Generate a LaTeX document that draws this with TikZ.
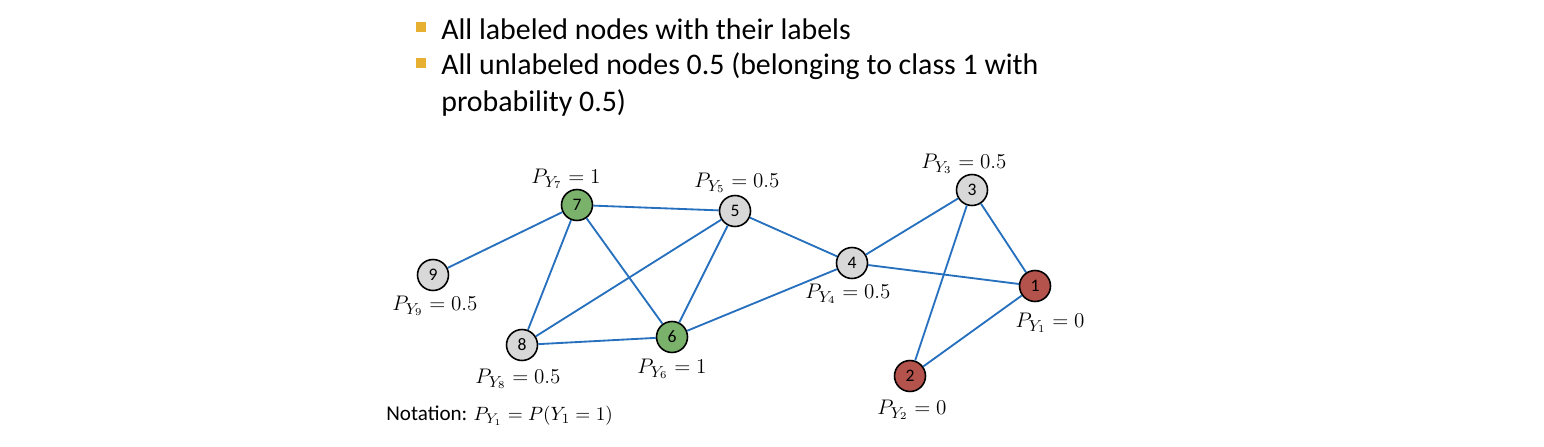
\documentclass[tikz,border=0pt]{standalone}
\usepackage{fontspec}
\setmainfont{Carlito}
\usepackage{tikz,color}

\definecolor{edgeblue}{RGB}{38,112,190}
\definecolor{labgreen}{RGB}{122,178,108}
\definecolor{labred}{RGB}{180,82,76}
\definecolor{unlab}{RGB}{216,216,216}
\definecolor{bulletgold}{RGB}{232,176,48}

\tikzset{
  vert/.style={circle, draw=black, line width=0.9pt, minimum size=0.62cm,
    inner sep=0pt, font=\fontsize{10}{12}\selectfont},
  prob/.style={font=\fontsize{12.5}{14}\selectfont, inner sep=0pt},
  link/.style={edgeblue, line width=1.05pt},
  bullet/.style={fill=bulletgold, minimum size=0.2cm, inner sep=0pt}
}

\begin{document}
\begin{tikzpicture}[x=0.02cm, y=-0.02cm]
\useasboundingbox (0,0) rectangle (1544,446);

% bullet list
\node [bullet] (b1) at (421,27) {};
\node [bullet] (b2) at (421,63) {};
\node [anchor=west, font=\fontsize{17}{21}\selectfont, inner sep=0pt] (t1) at (441,29) {All labeled nodes with their labels};
\node [anchor=north west, align=left, font=\fontsize{17}{21}\selectfont, inner sep=0pt] (t2) at (441,52)
  {All unlabeled nodes 0.5 (belonging to class 1 with\\probability 0.5)};

% nodes
\node [vert, fill=labred] (n1) at (1035,286) {1};
\node [vert, fill=labred] (n2) at (910,376) {2};
\node [vert, fill=unlab] (n3) at (972,190) {3};
\node [vert, fill=unlab] (n4) at (852,263) {4};
\node [vert, fill=unlab] (n5) at (735,211) {5};
\node [vert, fill=labgreen] (n6) at (672,337) {6};
\node [vert, fill=labgreen] (n7) at (577,205) {7};
\node [vert, fill=unlab] (n8) at (522,345) {8};
\node [vert, fill=unlab] (n9) at (433,275) {9};

% edges
\draw [link] (n9) -- (n7);
\draw [link] (n7) -- (n5);
\draw [link] (n7) -- (n8);
\draw [link] (n7) -- (n6);
\draw [link] (n5) -- (n8);
\draw [link] (n5) -- (n6);
\draw [link] (n5) -- (n4);
\draw [link] (n8) -- (n6);
\draw [link] (n6) -- (n4);
\draw [link] (n4) -- (n3);
\draw [link] (n4) -- (n1);
\draw [link] (n3) -- (n1);
\draw [link] (n3) -- (n2);
\draw [link] (n1) -- (n2);

% probabilities
\node [prob] (p1) at (1050,323) {$P_{Y_1}=0$};
\node [prob] (p2) at (912,410) {$P_{Y_2}=0$};
\node [prob] (p3) at (964,164) {$P_{Y_3}=0.5$};
\node [prob] (p4) at (848,294) {$P_{Y_4}=0.5$};
\node [prob] (p5) at (737,183) {$P_{Y_5}=0.5$};
\node [prob] (p6) at (672,369) {$P_{Y_6}=1$};
\node [prob] (p7) at (566,179) {$P_{Y_7}=1$};
\node [prob] (p8) at (518,379) {$P_{Y_8}=0.5$};
\node [prob] (p9) at (435,306) {$P_{Y_9}=0.5$};

\node [anchor=west, inner sep=0pt, font=\fontsize{12}{14}\selectfont] (note) at (386,416)
  {Notation: {\fontsize{10.8}{13}\selectfont$P_{Y_1}=P(Y_1=1)$}};
\end{tikzpicture}
\end{document}
